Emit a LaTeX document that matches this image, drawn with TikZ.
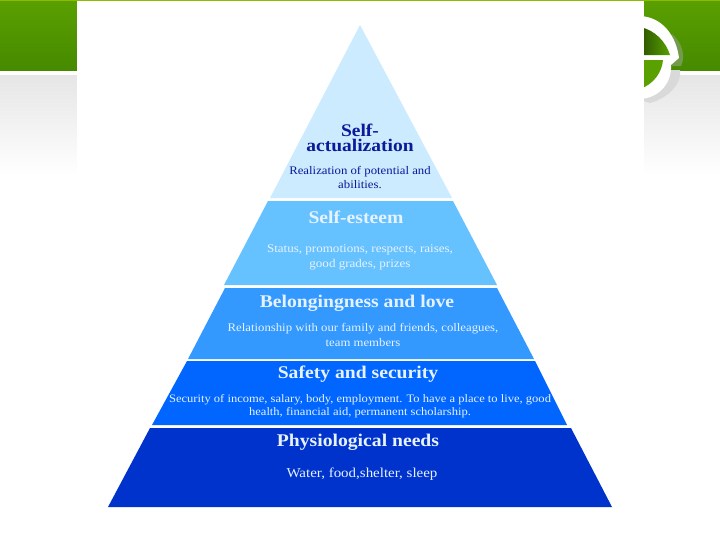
\documentclass[tikz,border=0pt]{standalone}
\usepackage{fontspec}
\setmainfont[FakeStretch=1.1]{Liberation Serif}
\definecolor{gA}{HTML}{5AA000}
\definecolor{gB}{HTML}{468A00}
\definecolor{cA}{HTML}{CCEBFF}
\definecolor{cB}{HTML}{66C2FF}
\definecolor{cC}{HTML}{3399FF}
\definecolor{cD}{HTML}{0066FF}
\definecolor{cE}{HTML}{0033CC}
\definecolor{dk}{HTML}{0A1A9A}
\definecolor{lt}{HTML}{E6F2FF}
\newcommand{\headfont}{\fontsize{13.4}{13}\selectfont\bfseries}
\newcommand{\bodyfont}{\fontsize{8.7}{10.6}\selectfont}
\tikzset{
  x=0.75pt,y=-0.75pt,
  head/.style={inner sep=0,align=center,font=\headfont,text=lt},
  body/.style={inner sep=0,align=center,font=\bodyfont,text=lt},
}
\begin{document}
\begin{tikzpicture}
\useasboundingbox (0,0) rectangle (720,540);
\fill[white] (0,0) rectangle (720,540);
% header band
\shade[top color=gA,bottom color=gB] (0,0) rectangle (720,70);
\fill[gA!70!yellow] (0,0) rectangle (720,1);
\shade[top color=black!10,bottom color=white] (0,75) rectangle (720,175);
% logo shadow
\fill[black!20!gB!70!white] (672,34) .. controls (682,42) and (686,56) .. (681,66) -- (672,66) -- cycle;
\fill[black!15] (660,70) -- (680,70) .. controls (682,84) and (668,98) .. (650,103) -- (640,100) -- cycle;
% logo ring
\fill[white] (640,16) .. controls (662,17) and (676,35) .. (679,58) -- (671,65) .. controls (672,82) and (660,98) .. (640,99) -- cycle;
\shade[left color=gB!60!black,right color=gA] (640,27) .. controls (655,30) and (666,42) .. (670,55) -- (640,55) -- cycle;
\fill[gA] (640,60) -- (663,60) .. controls (662,72) and (654,84) .. (640,89) -- cycle;
% white sheet
\fill[white] (77,1) rectangle (644,540);
% pyramid
\fill[cA] (360,25) -- (452,198) -- (270,198) -- cycle;
\fill[cB] (268,201) -- (453,201) -- (497,285) -- (224,285) -- cycle;
\fill[cC] (225,288) -- (497,288) -- (534,359) -- (188,359) -- cycle;
\fill[cD] (187,361) -- (535,361) -- (567,425) -- (152,425) -- cycle;
\fill[cE] (150,428) -- (571,428) -- (612,507) -- (108,507) -- cycle;
% texts
\node[head,text=dk,font={\fontsize{13.3}{11.2}\selectfont\bfseries}] (h1) at (360,138) {Self-\\actualization};
\node[body,text=dk,font={\fontsize{8.7}{10.6}\selectfont}] (b1) at (360,177.5) {Realization of potential and\\abilities.};
\node[head] (h2) at (356,217) {Self-esteem};
\node[body,font={\fontsize{8.9}{11.2}\selectfont}] (b2) at (360,257) {Status, promotions, respects, raises,\\good grades, prizes};
\node[head] (h3) at (357,303.5) {Belongingness and love};
\node[body] (b3) at (363,335) {Relationship with our family and friends, colleagues,\\team members};
\node[head] (h4) at (358,374.5) {Safety and security};
\node[body,font={\fontsize{8.55}{10}\selectfont}] (b4) at (360,406.5) {Security of income, salary, body, employment. To have a place to live, good\\health, financial aid, permanent scholarship.};
\node[head] (h5) at (358,442.5) {Physiological needs};
\node[body,font={\fontsize{10.2}{12}\selectfont}] (b5) at (362,474) {Water, food,shelter, sleep};
\end{tikzpicture}
\end{document}
